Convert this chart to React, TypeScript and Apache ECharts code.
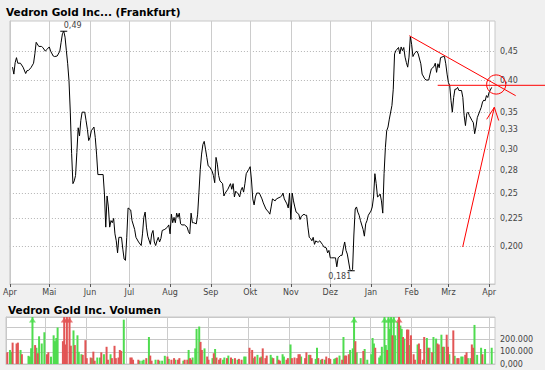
import React, { useEffect, useRef } from "react";
import * as echarts from "echarts";

// Days since 1 April (start of the chart) and closing prices
const priceData: [number, number][] = [
[2,0.422],[3,0.410],[4,0.430],[5,0.439],[6,0.429],[8,0.429],[10,0.422],[12,0.411],[13,0.416],[14,0.416],[16,0.421],[18,0.429],[19,0.446],[20,0.468],[22,0.460],[24,0.460],[25,0.458],[27,0.451],[28,0.454],[30,0.459],[31,0.451],[33,0.442],[34,0.441],[36,0.442],[38,0.451],[39,0.468],[40,0.485],[41,0.490],[42,0.478],[43,0.452],[44,0.428],[45,0.399],[46,0.350],[47,0.295],[48,0.260],[49,0.263],[50,0.269],[51,0.296],[52,0.328],[53,0.317],[54,0.338],[55,0.350],[57,0.350],[58,0.338],[59,0.326],[60,0.311],[61,0.315],[62,0.324],[64,0.329],[65,0.315],[66,0.294],[67,0.270],[71,0.270],[72,0.249],[73,0.217],[74,0.247],[75,0.236],[76,0.217],[77,0.223],[78,0.221],[79,0.225],[80,0.211],[81,0.205],[82,0.195],[83,0.208],[85,0.208],[86,0.198],[87,0.190],[88,0.189],[89,0.208],[90,0.235],[92,0.233],[93,0.223],[95,0.215],[96,0.208],[98,0.204],[100,0.201],[101,0.211],[102,0.226],[103,0.231],[104,0.217],[105,0.209],[107,0.202],[108,0.211],[109,0.214],[110,0.204],[111,0.201],[112,0.205],[113,0.208],[114,0.204],[115,0.207],[116,0.214],[118,0.215],[120,0.217],[121,0.219],[122,0.211],[123,0.229],[124,0.221],[125,0.226],[126,0.221],[127,0.230],[128,0.226],[129,0.230],[130,0.220],[131,0.219],[133,0.219],[135,0.217],[136,0.213],[137,0.211],[138,0.230],[139,0.221],[140,0.221],[142,0.220],[143,0.229],[144,0.251],[145,0.276],[146,0.294],[147,0.306],[148,0.310],[149,0.300],[150,0.290],[151,0.280],[152,0.279],[154,0.274],[155,0.269],[156,0.261],[157,0.290],[158,0.282],[159,0.269],[160,0.263],[162,0.260],[163,0.247],[164,0.250],[166,0.254],[168,0.260],[169,0.254],[170,0.260],[171,0.246],[172,0.252],[174,0.249],[175,0.246],[176,0.253],[177,0.256],[178,0.251],[179,0.260],[180,0.271],[182,0.276],[183,0.279],[184,0.264],[185,0.244],[186,0.238],[187,0.246],[188,0.250],[190,0.250],[192,0.244],[193,0.240],[195,0.234],[197,0.231],[198,0.229],[199,0.236],[200,0.244],[202,0.242],[203,0.244],[206,0.246],[207,0.247],[208,0.250],[209,0.244],[211,0.239],[212,0.235],[213,0.250],[214,0.224],[215,0.250],[216,0.242],[217,0.236],[218,0.231],[220,0.229],[221,0.224],[222,0.227],[224,0.229],[225,0.228],[226,0.228],[227,0.217],[228,0.208],[229,0.207],[230,0.205],[231,0.208],[232,0.202],[233,0.205],[234,0.204],[235,0.204],[236,0.205],[238,0.202],[239,0.200],[241,0.199],[242,0.195],[243,0.197],[244,0.191],[245,0.191],[247,0.191],[248,0.191],[249,0.184],[250,0.191],[252,0.193],[253,0.193],[254,0.199],[255,0.204],[256,0.197],[257,0.194],[259,0.182],[260,0.181],[261,0.182],[262,0.210],[263,0.234],[264,0.236],[265,0.231],[266,0.228],[267,0.223],[269,0.215],[270,0.209],[271,0.220],[272,0.223],[273,0.228],[275,0.232],[276,0.236],[277,0.246],[278,0.271],[279,0.260],[280,0.246],[281,0.247],[282,0.249],[283,0.242],[284,0.230],[285,0.271],[286,0.302],[287,0.324],[288,0.329],[289,0.340],[291,0.360],[292,0.385],[293,0.446],[294,0.452],[296,0.458],[297,0.446],[298,0.459],[299,0.452],[300,0.458],[301,0.440],[302,0.430],[303,0.422],[304,0.440],[305,0.479],[306,0.464],[307,0.441],[308,0.446],[309,0.449],[310,0.451],[311,0.446],[313,0.428],[314,0.410],[316,0.402],[317,0.400],[319,0.400],[320,0.410],[321,0.419],[323,0.423],[324,0.429],[325,0.413],[326,0.428],[327,0.421],[328,0.439],[330,0.441],[331,0.441],[332,0.428],[333,0.410],[334,0.396],[335,0.391],[336,0.367],[337,0.350],[338,0.372],[339,0.385],[340,0.385],[341,0.388],[342,0.383],[344,0.383],[345,0.372],[346,0.345],[347,0.331],[348,0.348],[349,0.350],[350,0.345],[352,0.338],[353,0.335],[354,0.320],[355,0.329],[356,0.342],[358,0.352],[359,0.357],[360,0.365],[361,0.368],[362,0.367],[363,0.375],[364,0.372],[365,0.380],[367,0.388]
];

// Volume on up days (green) and down days (red)
const volUp: [number, number][] = [
[3,115000],[4,100000],[11,115000],[17,67000],[18,60000],[19,128000],[20,480000],[23,133000],[25,227000],[27,168000],[29,260000],[34,60000],[36,235000],[37,187000],[38,213000],[39,299000],[51,275000],[54,235000],[55,100000],[57,80000],[65,48000],[69,53000],[71,53000],[74,80000],[79,80000],[89,363000],[101,27000],[103,27000],[104,35000],[108,221000],[113,35000],[116,27000],[118,27000],[120,67000],[123,42000],[128,35000],[134,27000],[138,115000],[141,53000],[143,128000],[144,288000],[146,307000],[150,128000],[156,48000],[158,123000],[164,35000],[165,53000],[168,69000],[171,42000],[175,35000],[180,61000],[181,61000],[187,48000],[190,75000],[193,61000],[200,75000],[201,53000],[205,67000],[209,80000],[210,61000],[215,160000],[223,61000],[229,75000],[234,42000],[235,133000],[238,35000],[241,35000],[248,42000],[249,48000],[252,69000],[255,221000],[260,115000],[262,128000],[263,450000],[265,96000],[268,48000],[271,123000],[273,35000],[276,80000],[277,213000],[278,168000],[282,53000],[283,69000],[284,141000],[286,520000],[287,155000],[289,480000],[290,288000],[291,500000],[293,470000],[294,235000],[296,345000],[298,315000],[299,288000],[301,208000],[305,155000],[311,160000],[318,213000],[320,133000],[323,221000],[325,208000],[329,240000],[331,141000],[335,80000],[339,67000],[344,61000],[345,61000],[349,48000],[351,48000],[354,320000],[356,75000],[359,133000],[362,123000],[367,133000]
];
const volDown: [number, number][] = [
[1,96000],[5,175000],[8,168000],[9,175000],[12,80000],[22,155000],[24,88000],[31,80000],[32,96000],[43,187000],[44,500000],[45,160000],[46,480000],[48,490000],[49,150000],[52,155000],[58,75000],[60,195000],[61,48000],[64,53000],[66,101000],[67,27000],[72,96000],[76,141000],[77,35000],[80,48000],[82,149000],[83,48000],[85,53000],[86,115000],[87,107000],[94,53000],[95,53000],[96,35000],[100,35000],[106,48000],[109,69000],[110,27000],[115,35000],[122,61000],[125,35000],[127,48000],[130,35000],[131,48000],[135,35000],[137,35000],[139,48000],[140,35000],[147,181000],[148,115000],[152,61000],[153,35000],[157,88000],[159,53000],[161,35000],[162,48000],[167,48000],[170,53000],[173,48000],[176,42000],[178,35000],[184,133000],[186,115000],[188,61000],[192,53000],[194,128000],[196,48000],[197,69000],[202,48000],[206,35000],[207,27000],[212,35000],[213,48000],[216,48000],[218,53000],[220,48000],[221,80000],[222,80000],[226,48000],[227,96000],[230,75000],[231,48000],[236,48000],[239,42000],[242,61000],[244,48000],[245,42000],[250,53000],[254,35000],[256,69000],[257,69000],[259,80000],[264,187000],[270,107000],[279,133000],[288,115000],[292,235000],[297,480000],[300,221000],[303,282000],[304,282000],[306,235000],[308,80000],[309,35000],[312,168000],[313,123000],[315,35000],[316,221000],[319,133000],[322,96000],[326,168000],[327,160000],[330,141000],[333,240000],[334,141000],[338,275000],[341,48000],[342,48000],[347,75000],[348,96000],[352,160000],[353,133000],[360,80000]
];

const monthTicks = [0, 30, 61, 91, 122, 153, 183, 214, 244, 275, 306, 334, 365];
const monthLabels = ["Apr", "Mai", "Jun", "Jul", "Aug", "Sep", "Okt", "Nov", "Dez", "Jan", "Feb", "Mrz", "Apr"];
const priceTicks = [0.2, 0.225, 0.25, 0.275, 0.3, 0.325, 0.35, 0.4, 0.45];
const priceTickLabels = ["0,200", "0,225", "0,25", "0,28", "0,30", "0,33", "0,35", "0,40", "0,45"];
const volTicks = [0, 100000, 200000];
const volTickLabels = ["0,000", "100.000", "200.000"];

const PRICE_MIN = 0.1713;
const PRICE_MAX = 0.5113;
const VOL_MAX = 385000;
const DAY_MAX = 369.5;

const FONT = "DejaVu Sans";
const GREEN = "#4fdc4f";
const RED = "#e25555";

export default function App() {
  const ref = useRef<HTMLDivElement>(null);
  useEffect(() => {
    if (!ref.current) return;
    const chart = echarts.init(ref.current, undefined, { renderer: "svg" });
    const ln = Math.log;
    const lnTicks = priceTicks.map((p) => ln(p));
    let maxPt = priceData[0];
    let minPt = priceData[0];
    priceData.forEach((p) => {
      if (p[1] > maxPt[1]) maxPt = p;
      if (p[1] < minPt[1]) minPt = p;
    });
    const fmtPrice = (v: number) => String(v).replace(".", ",");
    const axisText = { fontFamily: FONT, fontSize: 8, color: "#444" };
    const clipped = (arr: [number, number][]) =>
      arr.filter((d) => d[1] > VOL_MAX).map((d) => [d[0], VOL_MAX]);

    const option: any = {
      animation: false,
      backgroundColor: "#f0f0f0",
      textStyle: { fontFamily: FONT },
      grid: [
        { left: 6, right: 50, top: 21, height: 263, show: true, backgroundColor: "#ffffff", borderColor: "#c8c8c8", borderWidth: 1 },
        { left: 6, right: 50, top: 317, height: 47, show: true, backgroundColor: "#ffffff", borderColor: "#c8c8c8", borderWidth: 1 },
      ],
      xAxis: [
        {
          type: "value", gridIndex: 0, min: 0, max: DAY_MAX,
          axisLine: { show: true, lineStyle: { color: "#c8c8c8" } },
          axisTick: { show: true, customValues: monthTicks, length: 3, lineStyle: { color: "#555" } },
          axisLabel: {
            customValues: monthTicks, margin: 4, ...axisText,
            formatter: (v: number) => { const i = monthTicks.indexOf(Math.round(v)); return i >= 0 ? monthLabels[i] : ""; },
          },
          splitLine: { show: true, lineStyle: { color: "#cccccc", width: 1 } },
        },
        {
          type: "value", gridIndex: 1, min: 0, max: DAY_MAX,
          axisLine: { show: true, lineStyle: { color: "#c8c8c8" } },
          axisTick: { show: false, customValues: monthTicks },
          axisLabel: { show: false, customValues: monthTicks },
          splitLine: { show: true, lineStyle: { color: "#cccccc", width: 1 } },
        },
      ],
      yAxis: [
        {
          type: "value", gridIndex: 0, position: "right", min: ln(PRICE_MIN), max: ln(PRICE_MAX),
          axisLine: { show: true, lineStyle: { color: "#c8c8c8" } },
          axisTick: { show: false, customValues: lnTicks },
          axisLabel: {
            customValues: lnTicks, margin: 5, ...axisText,
            formatter: (v: number) => { const i = lnTicks.findIndex((t) => Math.abs(t - v) < 1e-6); return i >= 0 ? priceTickLabels[i] : ""; },
          },
          splitLine: { show: true, lineStyle: { color: "#b4b4b4", type: [1, 2] } },
        },
        {
          type: "value", gridIndex: 1, position: "right", min: 0, max: VOL_MAX, interval: 100000,
          axisLine: { show: true, lineStyle: { color: "#c8c8c8" } },
          axisTick: { show: false },
          axisLabel: {
            margin: 5, ...axisText,
            formatter: (v: number) => { const i = volTicks.indexOf(v); return i >= 0 ? volTickLabels[i] : ""; },
          },
          splitLine: { show: true, lineStyle: { color: "#c8c8c8" } },
        },
      ],
      graphic: [
        { type: "text", left: 6, top: 6, z: 100, style: { text: "Vedron Gold Inc... (Frankfurt)", font: `bold 10.5px "${FONT}"`, fill: "#000" } },
        { type: "text", left: 8, top: 304, z: 100, style: { text: "Vedron Gold Inc. Volumen", font: `bold 10.5px "${FONT}"`, fill: "#000" } },
        { type: "line", z: 100, shape: { x1: 409.3, y1: 35.7, x2: 515.7, y2: 95.7 }, style: { stroke: "#ff0000", lineWidth: 1 } },
        { type: "line", z: 100, shape: { x1: 437.7, y1: 85.3, x2: 545, y2: 85.3 }, style: { stroke: "#ff0000", lineWidth: 1 } },
        { type: "circle", z: 100, shape: { cx: 496.2, cy: 84.5, r: 9.6 }, style: { fill: "none", stroke: "#ff0000", lineWidth: 1 } },
        { type: "line", z: 100, shape: { x1: 462.7, y1: 247, x2: 494.3, y2: 107.3 }, style: { stroke: "#ff0000", lineWidth: 1 } },
        { type: "polyline", z: 100, shape: { points: [[486.7, 119.3], [494.3, 107.3], [498.7, 120.5]] }, style: { fill: "none", stroke: "#ff0000", lineWidth: 1 } },
      ],
      series: [
        {
          type: "line", xAxisIndex: 0, yAxisIndex: 0,
          data: priceData.map((d) => [d[0], ln(d[1])]),
          showSymbol: false, symbol: "none",
          lineStyle: { color: "#000", width: 1 },
          markPoint: {
            symbol: "rect", symbolSize: [7, 1], itemStyle: { color: "#000" },
            data: [
              { coord: [maxPt[0], ln(maxPt[1])], label: { show: true, formatter: fmtPrice(maxPt[1]), position: "top", align: "left", distance: 1, ...axisText } },
              { coord: [minPt[0], ln(minPt[1])], label: { show: true, formatter: fmtPrice(minPt[1]), position: "bottom", align: "right", distance: 1, ...axisText } },
            ],
          },
        },
        {
          type: "bar", xAxisIndex: 1, yAxisIndex: 1, barWidth: 2, barGap: "-100%",
          data: volUp, itemStyle: { color: GREEN },
        },
        {
          type: "bar", xAxisIndex: 1, yAxisIndex: 1, barWidth: 2, barGap: "-100%",
          data: volDown, itemStyle: { color: RED },
        },
        {
          type: "scatter", xAxisIndex: 1, yAxisIndex: 1, symbol: "triangle", symbolSize: [7, 5], symbolOffset: [0, 3],
          data: clipped(volUp), itemStyle: { color: GREEN },
        },
        {
          type: "scatter", xAxisIndex: 1, yAxisIndex: 1, symbol: "triangle", symbolSize: [7, 5], symbolOffset: [0, 3],
          data: clipped(volDown), itemStyle: { color: RED },
        },
      ],
    };
    chart.setOption(option);
    return () => chart.dispose();
  }, []);
  return (
    <div
      ref={ref}
      style={{ position: "fixed", left: 0, top: 0, width: 545, height: 370, background: "#f0f0f0" }}
    />
  );
}
